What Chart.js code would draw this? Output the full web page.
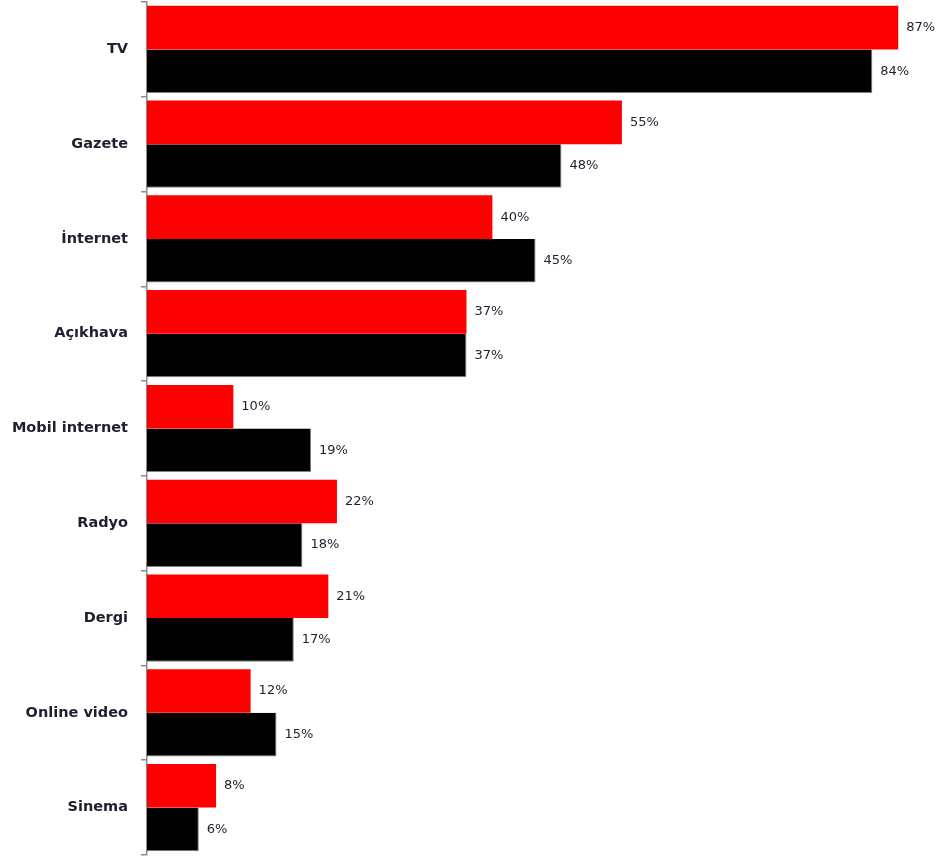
<!DOCTYPE html>
<html>
<head>
<meta charset="utf-8">
<script src="https://cdn.jsdelivr.net/npm/chart.js@4"></script>
<style>
  html, body { margin: 0; padding: 0; background: #fff; }
  #wrap { width: 944px; height: 859px; }
</style>
</head>
<body>
<div id="wrap"><canvas id="mediaChart"></canvas></div>
<script>
const categories = ['TV', 'Gazete', 'İnternet', 'Açıkhava', 'Mobil internet', 'Radyo', 'Dergi', 'Online video', 'Sinema'];
const redValues = [87, 55, 40, 37, 10, 22, 21, 12, 8];
const blackValues = [84, 48, 45, 37, 19, 18, 17, 15, 6];

const valueLabels = {
  id: 'valueLabels',
  afterDatasetsDraw(chart) {
    const ctx = chart.ctx;
    ctx.save();
    ctx.font = '13px "DejaVu Sans"';
    ctx.fillStyle = '#1f1f2e';
    ctx.textAlign = 'left';
    ctx.textBaseline = 'middle';
    chart.data.datasets.forEach((ds, i) => {
      chart.getDatasetMeta(i).data.forEach((bar, j) => {
        ctx.fillText(ds.data[j] + '%', bar.x + 8, bar.y);
      });
    });
    ctx.restore();
  }
};

function initChart() {
  const ctx = document.getElementById('mediaChart');
  return new Chart(ctx, {
    type: 'bar',
    data: {
      labels: categories,
      datasets: [
        { data: redValues, backgroundColor: '#ff0000', borderWidth: 0 },
        { data: blackValues, backgroundColor: '#000000', borderColor: '#808080', borderWidth: { right: 1, bottom: 1 } },
      ],
    },
    options: {
      indexAxis: 'y',
      responsive: true,
      maintainAspectRatio: false,
      animation: false,
      layout: { padding: { top: 2, bottom: 4, left: 0, right: 0 } },
      datasets: { bar: { categoryPercentage: 0.92, barPercentage: 1 } },
      plugins: { legend: { display: false }, tooltip: { enabled: false } },
      scales: {
        x: { display: false, min: 0, max: 92.3 },
        y: {
          afterFit: (scale) => {
            scale.width = 147;
            scale.paddingTop = 0;
            scale.paddingBottom = 0;
          },
          border: { color: '#8c8c8c', width: 1.5 },
          grid: { offset: true, drawOnChartArea: false, drawTicks: true, tickLength: 6, color: '#8c8c8c', lineWidth: 1.5 },
          ticks: { padding: 13, color: '#1f1f2e', font: { family: 'DejaVu Sans', size: 14.5, weight: 'bold' } },
        },
      },
    },
    plugins: [valueLabels],
  });
}

document.addEventListener('DOMContentLoaded', () => {
  initChart();
});
</script>
</body>
</html>
